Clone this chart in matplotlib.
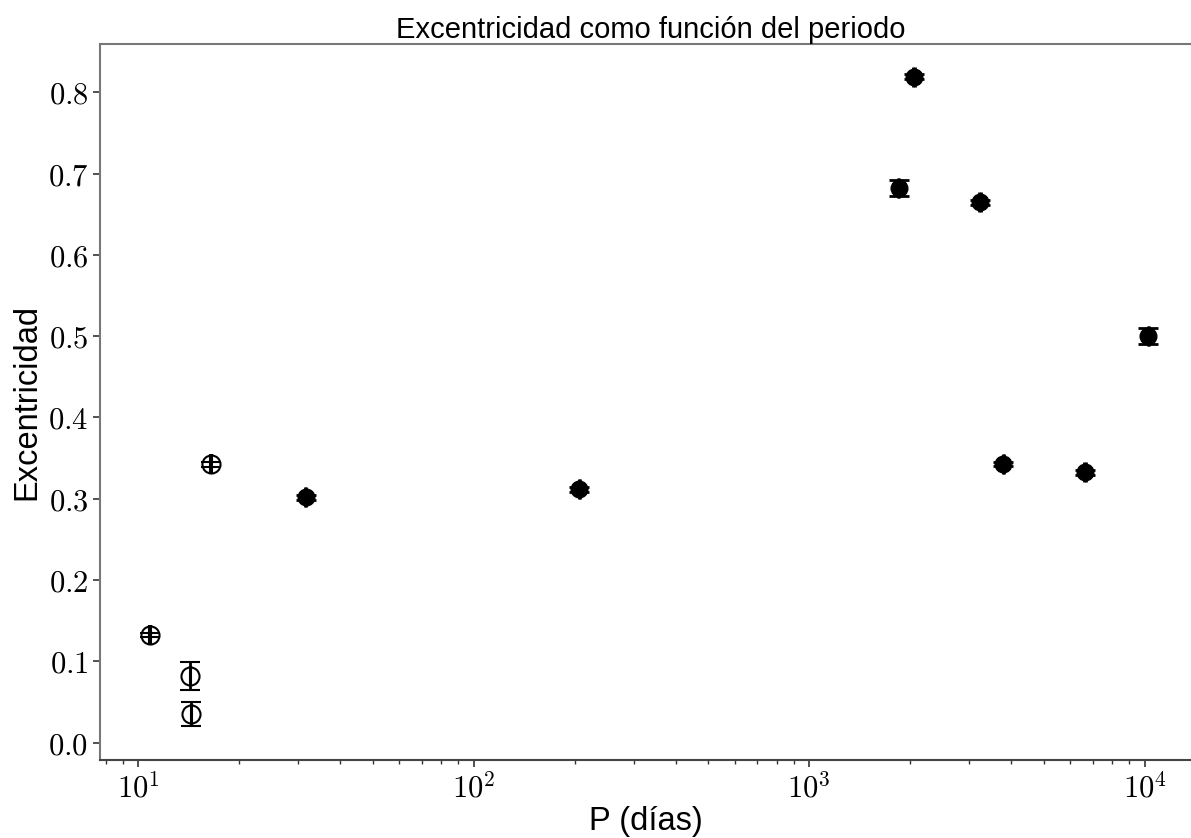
import matplotlib
matplotlib.use("Agg")
import matplotlib.pyplot as plt
from matplotlib.ticker import FuncFormatter, LogLocator
import numpy as np

# Orbital periods (days) and eccentricities with their uncertainties
period_open = [10.84, 14.3, 14.4, 16.47]
ecc_open = [0.1325, 0.082, 0.0353, 0.3424]
ecc_open_err = [0.003, 0.017, 0.015, 0.003]
period_open_err = [0.05, 0.06, 0.06, 0.07]

period_filled = [31.55, 206.3, 1847, 2051, 3228, 3785, 6637, 10245]
ecc_filled = [0.3018, 0.3116, 0.682, 0.819, 0.6646, 0.3428, 0.3326, 0.500]
ecc_filled_err = [0.003, 0.003, 0.010, 0.003, 0.003, 0.003, 0.003, 0.010]
period_filled_err = [0.15, 1.0, 9, 10, 15, 18, 30, 45]

y_ticks = [0.0, 0.1, 0.2, 0.3, 0.4, 0.5, 0.6, 0.7, 0.8]

plt.rcParams["mathtext.fontset"] = "cm"
sans = ["Liberation Sans", "DejaVu Sans"]

W, H = 1191, 838
fig = plt.figure(figsize=(W / 100, H / 100), dpi=100)
ax = fig.add_axes([100 / W, 1 - 760 / H, (1191 - 100) / W, (760 - 44) / H])

ax.errorbar(period_open, ecc_open, yerr=ecc_open_err, xerr=period_open_err,
            fmt="o", ms=13, mfc="none", mec="black", mew=1.5,
            ecolor="black", elinewidth=2, capsize=7, capthick=2)
ax.errorbar(period_filled, ecc_filled, yerr=ecc_filled_err, xerr=period_filled_err,
            fmt="o", ms=12, mfc="black", mec="black",
            ecolor="black", elinewidth=2, capsize=7, capthick=2)

ax.set_xscale("log")
ax.set_xlim(10 ** 0.8858, 10 ** 4.1377)
ax.set_ylim(-0.0213, 0.8594)

ax.set_yticks(y_ticks)
ax.yaxis.set_major_formatter(FuncFormatter(lambda v, p: r"$%.1f$" % v))
ax.xaxis.set_major_locator(LogLocator(base=10))
ax.xaxis.set_major_formatter(FuncFormatter(lambda v, p: r"$10^{%d}$" % round(np.log10(v))))

ax.tick_params(axis="both", which="major", labelsize=22, direction="out",
               length=5, width=1.2, color="#333333")
ax.tick_params(axis="x", which="minor", direction="out", length=3, width=1, color="#333333")
ax.tick_params(top=False, right=False, which="both")

ax.spines["right"].set_visible(False)
ax.spines["left"].set_color("#777777")
ax.spines["top"].set_color("#777777")
ax.spines["bottom"].set_color("#444444")
for s in ("left", "top", "bottom"):
    ax.spines[s].set_linewidth(1.5)

ax.set_title("Excentricidad como función del periodo", fontsize=21, family=sans,
             pad=3, x=0.505)
ax.set_xlabel("P (días)", fontsize=23.5, family=sans, labelpad=2)
ax.set_ylabel("Excentricidad", fontsize=23.5, family=sans, labelpad=4)

fig.savefig("out.png", dpi=100)
